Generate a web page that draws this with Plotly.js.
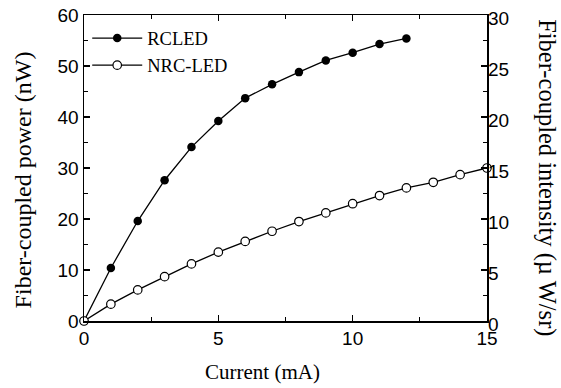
<!DOCTYPE html>
<html><head><meta charset="utf-8">
<script src="https://cdn.plot.ly/plotly-3.0.1.min.js"></script>
<style>html,body{margin:0;padding:0;background:#fff}#c{width:561px;height:388px}</style>
</head><body><div id="c"></div>
<script>
const rcCurrent = [0,1,2,3,4,5,6,7,8,9,10,11,12];
const rcPower = [0,10.4,19.6,27.6,34.1,39.2,43.7,46.4,48.8,51.1,52.6,54.3,55.4];
const nrcCurrent = [0,1,2,3,4,5,6,7,8,9,10,11,12,13,14,15];
const nrcPower = [0,3.3,6.1,8.7,11.2,13.5,15.6,17.6,19.5,21.2,23.0,24.6,26.1,27.2,28.7,30.0];
const names = ["RCLED","NRC-LED"];
const xTitle = "Current (mA)";
const yTitle = "Fiber-coupled power (nW)";
const y2Title = "Fiber-coupled intensity (\u00b5 W/sr)";

const serif = "Liberation Serif, Times New Roman, serif";
const tickFont = {family:"Liberation Sans, Arial, sans-serif", size:19, color:"#000"};

const data = [
  {x: rcCurrent, y: rcPower, name: names[0], mode:"lines+markers", cliponaxis:false,
   line:{color:"#000", width:1.3}, marker:{symbol:"circle", size:8.5, color:"#000"}},
  {x: nrcCurrent, y: nrcPower, name: names[1], mode:"lines+markers", cliponaxis:false,
   line:{color:"#000", width:1.3}, marker:{symbol:"circle", size:8.5, color:"#fff", line:{color:"#000", width:1.2}}},
  {x:[0], y:[0], yaxis:"y2", mode:"markers", showlegend:false, hoverinfo:"skip", marker:{opacity:0}}
];

const layout = {
  width:561, height:388,
  margin:{l:84, r:74, t:15, b:67},
  paper_bgcolor:"#fff", plot_bgcolor:"#fff",
  showlegend:true,
  legend:{x:0.008, y:0.985, xanchor:"left", yanchor:"top", bgcolor:"rgba(0,0,0,0)", itemwidth:50,
    font:{family:serif, size:18.5, color:"#000"}, tracegroupgap:0},
  xaxis:{range:[0,15], dtick:5, tick0:0, ticks:"inside", ticklen:6, tickwidth:1.2, tickcolor:"#000",
    minor:{dtick:2.5, ticks:"inside", ticklen:4, tickcolor:"#000"},
    showline:true, linecolor:"#000", linewidth:1.5, mirror:"ticks", showgrid:false, zeroline:false,
    tickfont:tickFont},
  yaxis:{range:[0,60], dtick:10, tick0:0, ticks:"inside", ticklen:6, tickwidth:1.2, tickcolor:"#000",
    minor:{dtick:5, ticks:"inside", ticklen:4, tickcolor:"#000"},
    showline:true, linecolor:"#000", linewidth:1.5, mirror:true, showgrid:false, zeroline:false,
    tickfont:tickFont},
  yaxis2:{range:[0,30], dtick:5, tick0:0, overlaying:"y", side:"right", ticks:"inside", ticklen:6, tickwidth:1.2, tickcolor:"#000",
    minor:{dtick:2.5, ticks:"inside", ticklen:4, tickcolor:"#000"}, ticklabelshift:3,
    showline:false, showgrid:false, zeroline:false, tickfont:tickFont},
  annotations:[
    {text:xTitle, xref:"paper", yref:"paper", x:0.444, y:-0.167, xanchor:"center", yanchor:"middle",
     showarrow:false, font:{family:serif, size:21, color:"#000"}},
    {text:yTitle, xref:"paper", yref:"paper", x:-0.151, y:0.46, xanchor:"center", yanchor:"middle",
     textangle:-90, showarrow:false, font:{family:serif, size:24, color:"#000"}},
    {text:y2Title, xref:"paper", yref:"paper", x:1.149, y:0.47, xanchor:"center", yanchor:"middle",
     textangle:90, showarrow:false, font:{family:serif, size:24.5, color:"#000"}}
  ]
};
Plotly.newPlot("c", data, layout, {staticPlot:true});
</script></body></html>
